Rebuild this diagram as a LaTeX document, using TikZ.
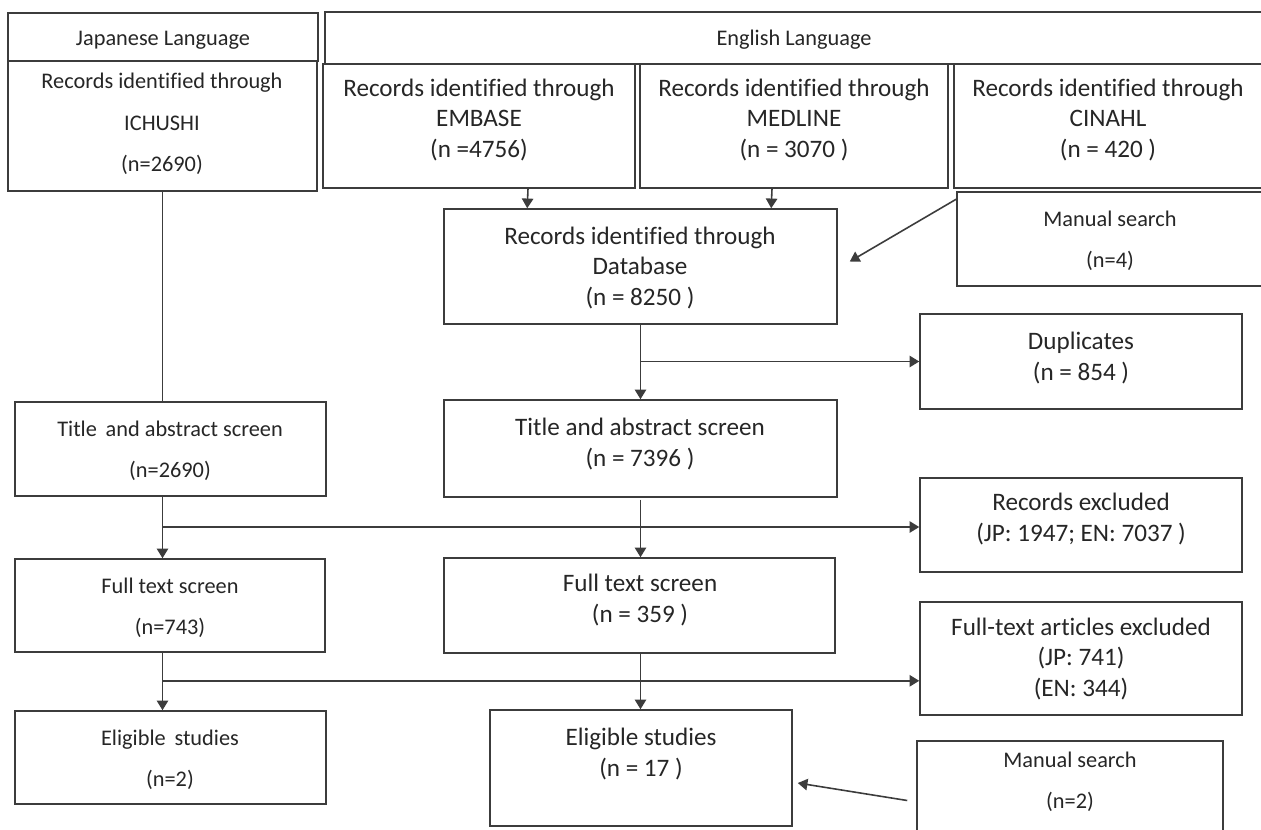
\documentclass[tikz,border=0pt]{standalone}
\usepackage{fontspec}
\setmainfont{Carlito}[Ligatures=CommonOff]
\usetikzlibrary{arrows.meta,fit,calc}
\definecolor{linec}{HTML}{3C3C3C}
\definecolor{textc}{HTML}{262626}
\begin{document}
\begin{tikzpicture}[x=0.02cm,y=-0.02cm,
  box/.style={draw=linec, line width=0.9pt, inner sep=0pt},
  sm/.style={font=\fontsize{12.7}{23.5}\selectfont, align=center, text=textc, inner sep=0pt},
  bg/.style={font=\fontsize{14.3}{17.5}\selectfont, align=center, text=textc, inner sep=0pt},
  arr/.style={draw=linec, line width=0.9pt, -{Triangle[width=6.5pt,length=5.5pt]}},
  ln/.style={draw=linec, line width=0.9pt}]
\useasboundingbox (0,0) rectangle (1261,829);
\fill[white] (0,0) rectangle (1261,829);
\clip (0,0) rectangle (1261,829);

% headers
\node[box, fit={(8,13)(318,61)}] (hJP) {};
\node[sm] (hJPt) at (163,40) {Japanese Language};
\node[box, fit={(325,12)(1263,64)}] (hEN) {};
\node[sm] (hENt) at (794,40) {English Language};

% top row
\node[box, fit={(8,61)(317,191)}] (ich) {};
\node[sm] (icht) at (162,124) {Records identified through\\ICHUSHI\\(n=2690)};
\node[box, fit={(323,64)(635,188)}] (emb) {};
\node[bg] (embt) at (479,120) {Records identified through\\EMBASE\\(n =4756)};
\node[box, fit={(640,64)(948,188)}] (med) {};
\node[bg] (medt) at (794,120) {Records identified through\\MEDLINE\\(n = 3070 )};
\node[box, fit={(954,64)(1263,188)}] (cin) {};
\node[bg] (cint) at (1108,120) {Records identified through\\CINAHL\\(n = 420 )};

% manual search (n=4)
\node[box, fit={(957,192)(1263,286)}] (man4) {};
\node[sm] (man4t) at (1110,241) {Manual search\\(n=4)};

% database
\node[box, fit={(444,209)(837,324)}] (db) {};
\node[bg] (dbt) at (640,268) {Records identified through\\Database\\(n = 8250 )};

% duplicates
\node[box, fit={(920,314)(1242,409)}] (dup) {};
\node[bg] (dupt) at (1081,358) {Duplicates\\(n = 854 )};

% title and abstract
\node[box, fit={(15,402)(326,496)}] (tJP) {};
\node[sm] (tJPt) at (170,451) {Title\, and abstract screen\\(n=2690)};
\node[box, fit={(444,400)(837,497)}] (tEN) {};
\node[bg] (tENt) at (640,444) {Title and abstract screen\\(n = 7396 )};

% records excluded
\node[box, fit={(920,478)(1242,572)}] (rex) {};
\node[bg] (rext) at (1081,519) {Records excluded\\(JP: 1947; EN: 7037 )};

% full text
\node[box, fit={(15,559)(325,652)}] (ftJP) {};
\node[sm] (ftJPt) at (170,608) {Full text screen\\(n=743)};
\node[box, fit={(444,558)(835,653)}] (ftEN) {};
\node[bg] (ftENt) at (640,600) {Full text screen\\(n = 359 )};

% full-text excluded
\node[box, fit={(920,602)(1242,715)}] (fte) {};
\node[bg] (ftet) at (1081,659) {Full-text articles excluded\\(JP: 741)\\(EN: 344)};

% eligible
\node[box, fit={(15,711)(326,804)}] (eJP) {};
\node[sm] (eJPt) at (170,760) {Eligible\, studies\\(n=2)};
\node[box, fit={(490,710)(792,826)}] (eEN) {};
\node[bg] (eENt) at (641,754) {Eligible studies\\(n = 17 )};

% manual search (n=2)
\node[box, fit={(917,741)(1223,834)}] (man2) {};
\node[sm] (man2t) at (1070,782) {Manual search\\(n=2)};

% connectors
\draw[arr] ($(emb.south)+(49,0)$) -- ($(db.north west)+(84,0)$);
\draw[arr] ($(med.south)+(-22,0)$) -- ($(db.north west)+(328,0)$);
\draw[arr] ($(man4.north west)+(0,8)$) -- ($(db.east)+(12,-5)$);
\draw[arr] (db.south) -- (tEN.north);
\draw[arr] (db.south |- dup.west) -- (dup.west);

\draw[ln] (ich.south) -- (ich.south |- tJP.north);
\draw[arr] (ich.south |- tJP.south) -- (ich.south |- ftJP.north);
\coordinate (rexIn) at ($(rex.west)+(0,2)$);
\draw[arr] (ich.south |- rexIn) -- (rexIn);
\draw[arr] ($(tEN.south)+(0,2)$) -- (tEN.south |- ftEN.north);

\draw[arr] (ich.south |- ftJP.south) -- (ich.south |- eJP.north);
\coordinate (fteIn) at ($(fte.south west)+(0,-35)$);
\draw[arr] (ich.south |- fteIn) -- (fteIn);
\draw[arr] (tEN.south |- ftEN.south) -- (tEN.south |- eEN.north);

\draw[arr] ($(man2.west)+(-9,13)$) -- ($(eEN.east)+(5,15)$);
\end{tikzpicture}
\end{document}
